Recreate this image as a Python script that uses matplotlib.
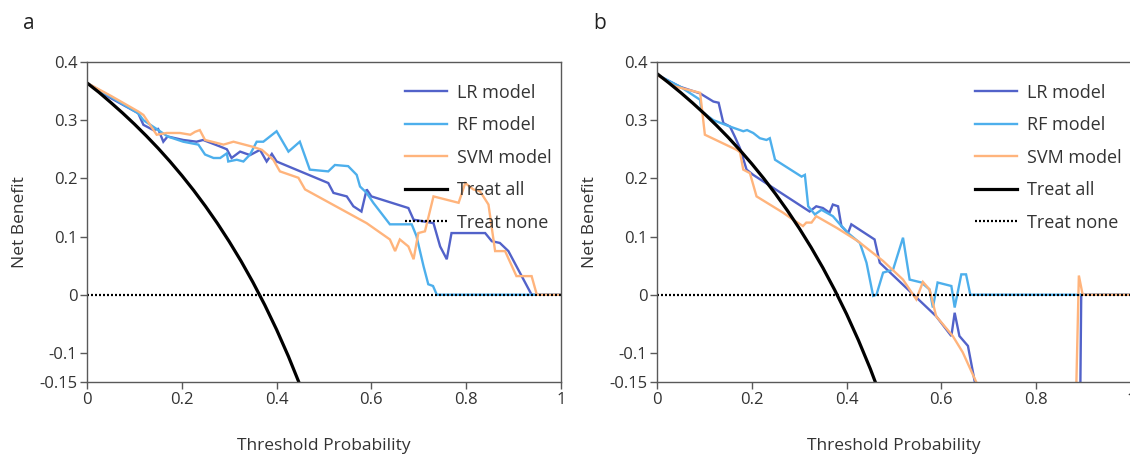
import matplotlib
matplotlib.use("Agg")
import matplotlib.pyplot as plt

plt.rcParams['font.family'] = ['Open Sans', 'DejaVu Sans']

# ---------------- data ----------------
x_ticks = [0, 0.2, 0.4, 0.6, 0.8, 1.0]
x_ticklabels = ["0", "0.2", "0.4", "0.6", "0.8", "1"]
y_ticks = [0.4, 0.3, 0.2, 0.1, 0.0, -0.1, -0.15]
y_ticklabels = ["0.4", "0.3", "0.2", "0.1", "0", "-0.1", "-0.15"]

treat_all_x = [0, 0.025, 0.05, 0.075, 0.1, 0.125, 0.15, 0.175, 0.2, 0.225, 0.25,
               0.275, 0.3, 0.325, 0.35, 0.375, 0.4, 0.425, 0.45, 0.475]
treat_all_a = [0.364, 0.348, 0.3305, 0.3124, 0.2933, 0.2731, 0.2518, 0.2291, 0.205, 0.1794,
               0.152, 0.1228, 0.0914, 0.0578, 0.0215, -0.0176, -0.060, -0.1061, -0.1564, -0.211]
treat_all_b = [0.38, 0.3641, 0.3474, 0.3297, 0.3111, 0.2914, 0.2706, 0.2485, 0.225, 0.200,
               0.1733, 0.1448, 0.1143, 0.0815, 0.0462, 0.008, -0.0333, -0.0783, -0.1273, -0.181]
treat_none_x = [0, 1.0]
treat_none_y = [0, 0]

lr_a_x = [0, 0.05, 0.108, 0.119, 0.14, 0.15, 0.161, 0.17, 0.203, 0.231, 0.245, 0.28, 0.295,
          0.305, 0.323, 0.344, 0.365, 0.379, 0.39, 0.4, 0.509, 0.52, 0.548, 0.562, 0.579, 0.59,
          0.6, 0.678, 0.689, 0.731, 0.745, 0.759, 0.769, 0.84, 0.854, 0.871, 0.889, 0.938, 1.0]
lr_a_y = [0.364, 0.338, 0.312, 0.292, 0.283, 0.285, 0.263, 0.272, 0.266, 0.263, 0.266, 0.255,
          0.250, 0.235, 0.246, 0.240, 0.249, 0.229, 0.242, 0.229, 0.192, 0.175, 0.169, 0.152,
          0.143, 0.181, 0.169, 0.149, 0.129, 0.123, 0.083, 0.061, 0.106, 0.106, 0.092, 0.089,
          0.075, 0.0, 0.0]

rf_a_x = [0, 0.05, 0.108, 0.119, 0.154, 0.17, 0.203, 0.235, 0.249, 0.267, 0.281, 0.295, 0.298,
          0.316, 0.33, 0.344, 0.358, 0.372, 0.4, 0.425, 0.449, 0.47, 0.509, 0.523, 0.551, 0.569,
          0.576, 0.59, 0.604, 0.639, 0.685, 0.695, 0.71, 0.72, 0.73, 0.738, 1.0]
rf_a_y = [0.364, 0.340, 0.312, 0.300, 0.281, 0.272, 0.263, 0.258, 0.241, 0.235, 0.235, 0.243,
          0.229, 0.232, 0.229, 0.241, 0.263, 0.263, 0.281, 0.246, 0.263, 0.215, 0.212, 0.223,
          0.221, 0.206, 0.186, 0.175, 0.158, 0.121, 0.121, 0.101, 0.049, 0.018, 0.015, 0.0, 0.0]

svm_a_x = [0, 0.05, 0.108, 0.119, 0.147, 0.168, 0.196, 0.218, 0.228, 0.238, 0.249, 0.288,
           0.309, 0.351, 0.369, 0.393, 0.407, 0.446, 0.46, 0.59, 0.639, 0.65, 0.66, 0.678,
           0.689, 0.699, 0.713, 0.731, 0.784, 0.798, 0.815, 0.829, 0.847, 0.861, 0.882, 0.906,
           0.938, 0.949, 1.0]
svm_a_y = [0.364, 0.342, 0.315, 0.309, 0.275, 0.278, 0.278, 0.275, 0.280, 0.283, 0.266, 0.258,
           0.263, 0.254, 0.249, 0.232, 0.212, 0.201, 0.181, 0.123, 0.095, 0.075, 0.095, 0.083,
           0.061, 0.106, 0.109, 0.169, 0.158, 0.192, 0.181, 0.178, 0.155, 0.075, 0.075, 0.032,
           0.032, 0.0, 0.0]

lr_b_x = [0, 0.05, 0.091, 0.119, 0.13, 0.14, 0.154, 0.164, 0.175, 0.189, 0.203, 0.322, 0.336,
          0.35, 0.364, 0.371, 0.382, 0.389, 0.403, 0.41, 0.459, 0.47, 0.589, 0.621, 0.628,
          0.638, 0.656, 0.67, 0.68, 0.888, 0.895, 1.0]
lr_b_y = [0.378, 0.357, 0.346, 0.332, 0.330, 0.295, 0.289, 0.272, 0.252, 0.215, 0.206, 0.143,
          0.152, 0.149, 0.141, 0.155, 0.152, 0.118, 0.106, 0.121, 0.095, 0.055, -0.037, -0.071,
          -0.031, -0.071, -0.088, -0.148, -0.17, -0.6, 0.0, 0.0]

rf_b_x = [0, 0.05, 0.091, 0.094, 0.119, 0.154, 0.168, 0.182, 0.19, 0.203, 0.217, 0.231, 0.238,
          0.249, 0.305, 0.312, 0.319, 0.333, 0.347, 0.371, 0.386, 0.403, 0.428, 0.442, 0.456,
          0.463, 0.477, 0.498, 0.519, 0.533, 0.558, 0.575, 0.582, 0.592, 0.621, 0.628, 0.642,
          0.652, 0.661, 1.0]
rf_b_y = [0.378, 0.357, 0.335, 0.315, 0.300, 0.289, 0.285, 0.281, 0.283, 0.278, 0.269, 0.266,
          0.269, 0.232, 0.203, 0.206, 0.152, 0.138, 0.146, 0.135, 0.121, 0.106, 0.089, 0.055,
          -0.002, 0.0, 0.038, 0.043, 0.098, 0.026, 0.021, 0.009, -0.022, 0.021, 0.015, -0.022,
          0.035, 0.035, 0.0, 0.0]

svm_b_x = [0, 0.038, 0.091, 0.101, 0.168, 0.175, 0.182, 0.196, 0.21, 0.266, 0.287, 0.308,
           0.315, 0.326, 0.336, 0.379, 0.424, 0.477, 0.519, 0.547, 0.561, 0.575, 0.589, 0.624,
           0.645, 0.674, 0.685, 0.872, 0.89, 0.898, 1.0]
svm_b_y = [0.378, 0.358, 0.347, 0.275, 0.249, 0.245, 0.215, 0.209, 0.169, 0.141, 0.129, 0.118,
           0.124, 0.124, 0.135, 0.115, 0.092, 0.058, 0.026, -0.008, 0.022, 0.009, -0.037,
           -0.071, -0.099, -0.151, -0.17, -0.6, 0.033, 0.0, 0.0]

labels = ["LR model", "RF model", "SVM model", "Treat all", "Treat none"]
colors = ["#5262C9", "#4DAFEC", "#FFB47C"]

# ---------------- figure ----------------
fig = plt.figure(figsize=(11.30, 4.57), dpi=100)
W, H = 1130, 457
ax_a = fig.add_axes([87 / W, 75 / H, 474 / W, 320 / H])
ax_b = fig.add_axes([657 / W, 75 / H, 474 / W, 320 / H])

spine_col = "#595959"
text_col = "#333333"

panels = [
    (ax_a, "a", [(lr_a_x, lr_a_y), (rf_a_x, rf_a_y), (svm_a_x, svm_a_y)], treat_all_a),
    (ax_b, "b", [(lr_b_x, lr_b_y), (rf_b_x, rf_b_y), (svm_b_x, svm_b_y)], treat_all_b),
]

for ax, letter, models, ta in panels:
    for (xs, ys), c, lab in zip(models, colors, labels[:3]):
        ax.plot(xs, ys, color=c, lw=1.7, label=lab, solid_joinstyle="miter")
    ax.plot(treat_all_x, ta, color="black", lw=2.3, label=labels[3])
    ax.plot(treat_none_x, treat_none_y, color="black", lw=1.6,
            linestyle=(0, (0.9, 0.9)), label=labels[4])
    ax.set_xlim(0, 1)
    ax.set_ylim(-0.15, 0.4)
    ax.set_xticks(x_ticks)
    ax.set_xticklabels(x_ticklabels)
    ax.set_yticks(y_ticks)
    ax.set_yticklabels(y_ticklabels)
    ax.tick_params(direction="out", length=5, width=1, color=spine_col,
                   labelcolor=text_col, labelsize=12, pad=2)
    for s in ax.spines.values():
        s.set_color(spine_col)
        s.set_linewidth(1.0)
    ax.set_xlabel("Threshold Probability", fontsize=12.5, color=text_col, labelpad=22)
    ax.set_ylabel("Net Benefit", fontsize=12.5, color=text_col, labelpad=8)
    leg = ax.legend(loc="upper left", bbox_to_anchor=(0.671, 0.932), frameon=False,
                    fontsize=13, handlelength=2.3, handletextpad=0.55,
                    labelspacing=0.8, borderpad=0, borderaxespad=0)
    for t in leg.get_texts():
        t.set_color(text_col)
    ax.text(-0.135, 1.12, letter, transform=ax.transAxes, fontsize=15,
            color="#222222", ha="left", va="center")

fig.savefig("out.png", dpi=100)
